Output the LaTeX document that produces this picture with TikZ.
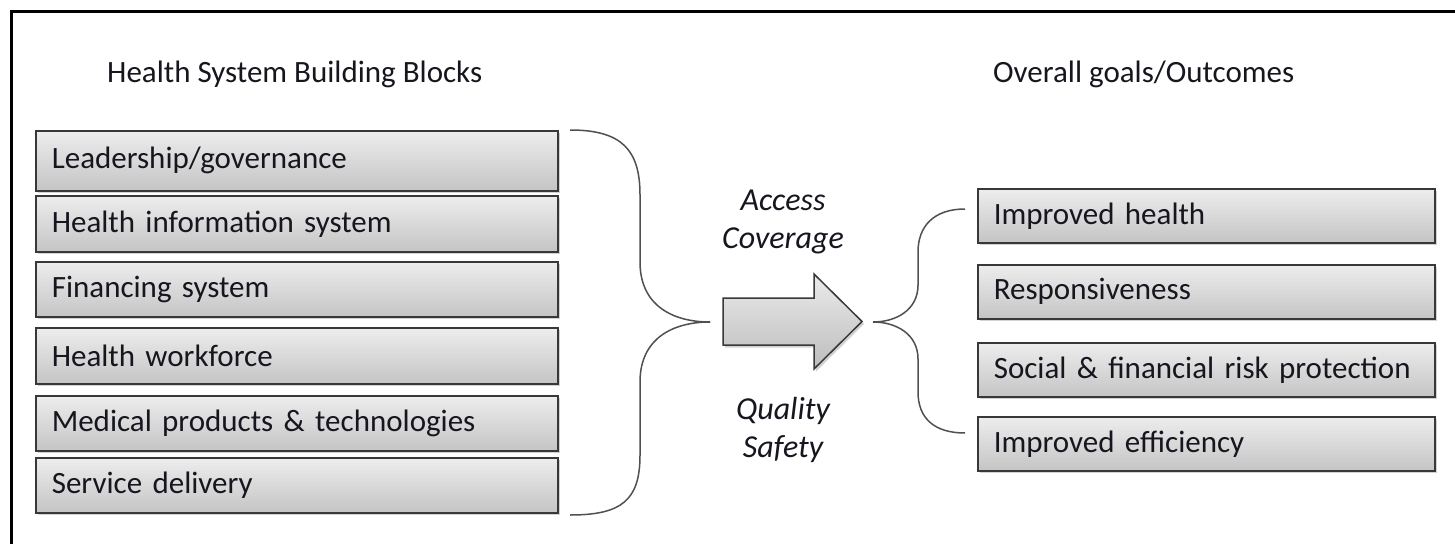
\documentclass[tikz,border=0pt]{standalone}
\usepackage{fontspec}
\setmainfont{Carlito}
\usetikzlibrary{shadows}
\definecolor{txt}{HTML}{16161F}
\definecolor{edge}{HTML}{383838}
\definecolor{bracec}{HTML}{505050}
\tikzset{
  blockbox/.style={draw=edge, line width=1.6pt, top color=black!7, bottom color=black!23,
    drop shadow={opacity=0.35, shadow xshift=2pt, shadow yshift=-2.5pt},
    anchor=north west, minimum height=#1, inner xsep=16pt, inner ysep=0pt,
    text width=490pt, align=left, font=\fontsize{31}{34}\selectfont, text=txt},
  goalbox/.style={blockbox=#1, text width=425pt},
  title/.style={anchor=base west, font=\fontsize{31}{34}\selectfont, text=txt, inner sep=0pt},
  flowtext/.style={font=\itshape\fontsize{32}{38}\selectfont, text=txt, align=center, inner sep=0pt},
  bracepath/.style={draw=bracec, line width=1.5pt},
}
\begin{document}
\begin{tikzpicture}[x=1pt,y=-1pt]
\useasboundingbox (0,0) rectangle (1455,543);
\clip (0,0) rectangle (1455,543);
\fill[white] (0,0) rectangle (1455,543);
% frame
\draw[line width=3pt] (11,560) -- (11,12) -- (1470,12);

% titles
\node[title] (t1) at (107,82) {Health System Building Blocks};
\node[title] (t2) at (993,82) {Overall goals/Outcomes};

% left boxes
\node[blockbox=60pt] (b1) at (35,130) {Leadership/governance};
\node[blockbox=56pt] (b2) at (35,195) {Health information system};
\node[blockbox=55pt] (b3) at (35,261) {Financing system};
\node[blockbox=56pt] (b4) at (35,327) {Health workforce};
\node[blockbox=55pt] (b5) at (35,395) {Medical products \& technologies};
\node[blockbox=55pt] (b6) at (35,457) {Service delivery};

% right boxes
\node[goalbox=54pt] (g1) at (977,188) {Improved health};
\node[goalbox=54pt] (g2) at (977,264) {Responsiveness};
\node[goalbox=54pt] (g3) at (977,342) {Social \& financial risk protection};
\node[goalbox=54pt] (g4) at (977,416) {Improved efficiency};

% flow texts
\node[flowtext] (acc) at (783,222) {Access\\Coverage};
\node[flowtext] (qual) at (783,430) {Quality\\Safety};

% left brace
\coordinate (lbt) at (570,130);
\coordinate (lbm) at (710,322);
\coordinate (lbb) at (570,515);
\draw[bracepath] (lbt) .. controls (622,130) and (640,150) .. (640,195) -- (640,262)
  .. controls (640,305) and (672,322) .. (lbm);
\draw[bracepath] (lbm) .. controls (672,322) and (640,339) .. (640,382) -- (640,455)
  .. controls (640,500) and (622,515) .. (lbb);

% right brace
\coordinate (rbt) at (965,209);
\coordinate (rbm) at (873,322);
\coordinate (rbb) at (965,433);
\draw[bracepath] (rbt) .. controls (934,209) and (918,226) .. (918,252) -- (918,285)
  .. controls (918,310) and (896,322) .. (rbm);
\draw[bracepath] (rbm) .. controls (896,322) and (918,334) .. (918,359) -- (918,392)
  .. controls (918,418) and (934,433) .. (rbb);

% big arrow
\path[draw=edge, line width=1.5pt, top color=black!8, bottom color=black!26, line join=miter,
  drop shadow={opacity=0.35, shadow xshift=2pt, shadow yshift=-2.5pt}]
  (723,298) -- (814,298) -- (814,274) -- (862,321.5) -- (814,369) -- (814,345) -- (723,345) -- cycle;
\end{tikzpicture}
\end{document}
